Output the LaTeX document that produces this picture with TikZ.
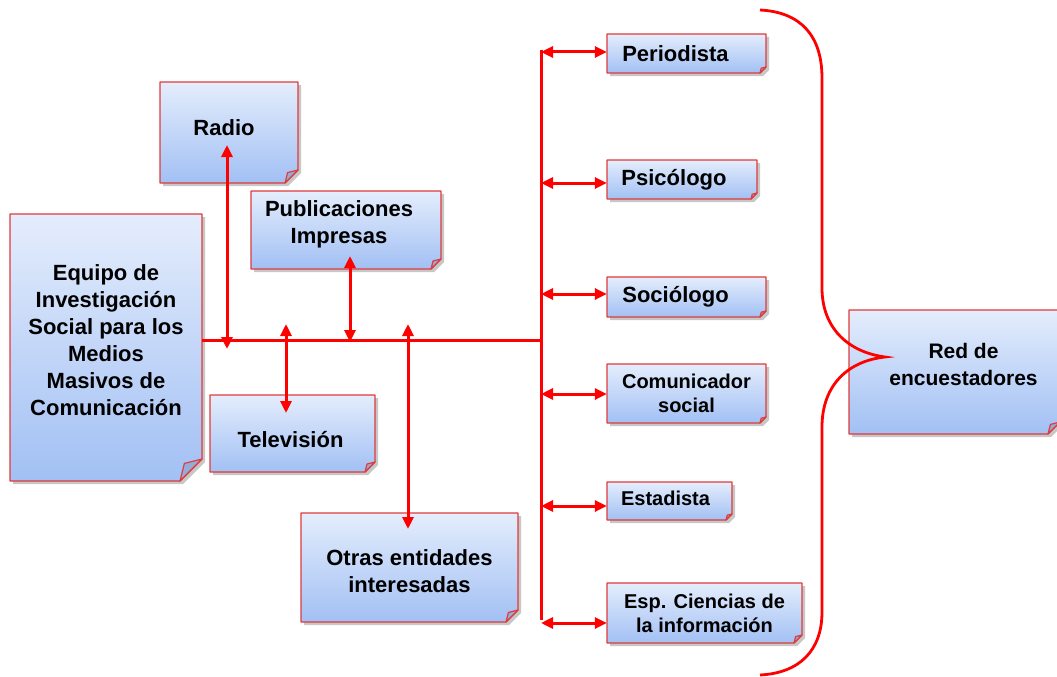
\documentclass[tikz,border=0pt]{standalone}
\usepackage{fontspec}
\setmainfont{Liberation Sans}
\usetikzlibrary{arrows.meta,calc}
\definecolor{lnred}{HTML}{FF0000}
\definecolor{bxred}{HTML}{E03A3A}
\definecolor{bxtop}{HTML}{E4EDFC}
\definecolor{bxbot}{HTML}{A2C0F4}
\definecolor{flapc}{HTML}{93ACD9}
\tikzset{
  ln/.style={lnred, line width=3pt},
  conn/.style={ln, {Triangle[length=12pt,width=11pt]}-{Triangle[length=12pt,width=11pt]}},
  bxline/.style={draw=bxred, line width=1.2pt, line join=round},
  lbl/.style={align=center, text=black, inner sep=0pt},
}
\newcommand\bigf{\bfseries\fontsize{22}{27}\selectfont}
\newcommand\midf{\bfseries\fontsize{21}{27}\selectfont}
\newcommand\smallf{\bfseries\fontsize{20}{24}\selectfont}
% name, x1, y1, x2, y2, fold, label options, font, text
\newcommand\docbox[9]{%
  \fill[black!22] (#2+3,#3+3) -- (#4+3,#3+3) -- (#4+3,#5+3-#6) -- (#4+3-#6,#5+3) -- (#2+3,#5+3) -- cycle;
  \shade[top color=bxtop, bottom color=bxbot] (#2,#3) -- (#4,#3) -- (#4,#5-#6) -- (#4-#6,#5) -- (#2,#5) -- cycle;
  \draw[bxline] (#2,#3) -- (#4,#3) -- (#4,#5-#6) -- (#4-#6,#5) -- (#2,#5) -- cycle;
  \filldraw[fill=flapc, bxline] (#4,#5-#6) -- (#4-#6,#5) -- (#4-0.8*#6,#5-0.8*#6) -- cycle;
  \node[minimum width=#4-#2, minimum height=#5-#3, inner sep=0pt,
    label={[lbl, #7, font=#8]center:#9}] (#1) at ({(#2+#4)/2},{(#3+#5)/2}) {};
}
\begin{document}
\begin{tikzpicture}[x=1pt, y=-1pt]
\useasboundingbox (0,0) rectangle (1057,677);
\clip (0,0) rectangle (1057,677);

\docbox{radio}{160}{82}{298}{183}{13}{xshift=-5pt,yshift=5pt}{\bigf}{Radio}
\docbox{pub}{251}{191}{441}{269}{10}{xshift=-7pt,yshift=6pt}{\bigf}{Publicaciones\\Impresas}
\docbox{equipo}{10}{214}{202}{481}{22}{yshift=7pt}{\bigf}{Equipo de\\Investigación\\Social para los\\Medios\\Masivos de\\Comunicación}
\docbox{tele}{210}{395}{375}{472}{10}{xshift=-2pt,yshift=-6pt}{\bigf}{Televisión}
\docbox{otras}{301}{513}{518}{622}{12}{yshift=-4pt}{\bigf}{Otras entidades\\interesadas}
\docbox{per}{607}{34}{766}{73}{6}{xshift=-11pt}{\bigf}{Periodista}
\docbox{psi}{607}{160}{757}{199}{6}{xshift=-8pt}{\bigf}{Psicólogo}
\docbox{soc}{607}{277}{766}{317}{6}{xshift=-11pt}{\bigf}{Sociólogo}
\docbox{com}{607}{364}{766}{423}{6}{}{\smallf}{Comunicador\\social}
\docbox{est}{607}{482}{732}{520}{6}{xshift=-4pt,yshift=3pt}{\smallf}{Estadista}
\docbox{esp}{607}{583}{802}{643}{8}{}{\smallf}{Esp. Ciencias de\\la información}
\docbox{red}{849}{310}{1060}{434}{12}{xshift=9pt,yshift=8pt}{\midf}{Red de\\encuestadores}

% main horizontal line and spine
\coordinate (hl) at (543,340);
\draw[ln] (hl -| equipo.east) -- (hl);
\coordinate (sp1) at (541,50);
\coordinate (sp2) at (541,620);
\draw[ln] (sp1) -- (sp2);

% spine to right boxes
\coordinate (s1) at (541,52);
\coordinate (s2) at (541,183);
\coordinate (s3) at (541,294);
\coordinate (s4) at (541,394);
\coordinate (s5) at (541,506);
\coordinate (s6) at (541,623);
\draw[conn] (s1) -- (s1 -| per.west);
\draw[conn] (s2) -- (s2 -| psi.west);
\draw[conn] (s3) -- (s3 -| soc.west);
\draw[conn] (s4) -- (s4 -| com.west);
\draw[conn] (s5) -- (s5 -| est.west);
\draw[conn] (s6) -- (s6 -| esp.west);

% vertical arrows on the left
\coordinate (ra1) at (227,145);
\coordinate (ra2) at (227,349);
\draw[conn] (ra2) -- (ra1);
\coordinate (pa1) at (350,256);
\coordinate (pa2) at (350,342);
\draw[conn] (pa2) -- (pa1);
\coordinate (ta1) at (286,324);
\coordinate (ta2) at (286,413);
\draw[conn] (ta1) -- (ta2);
\coordinate (oa1) at (408,324);
\coordinate (oa2) at (408,529);
\draw[conn] (oa1) -- (oa2);

% brace
\coordinate (bt) at (760,10);
\coordinate (bb) at (760,675);
\coordinate (tip) at (885,357);
\draw[ln, line width=2.8pt] (bt) .. controls (800,12) and (822,35) .. (822,78) -- (822,288)
  .. controls (822,328) and (848,352) .. (tip)
  .. controls (848,361) and (822,385) .. (822,427) -- (822,612)
  .. controls (822,650) and (800,673) .. (bb);
\end{tikzpicture}
\end{document}
